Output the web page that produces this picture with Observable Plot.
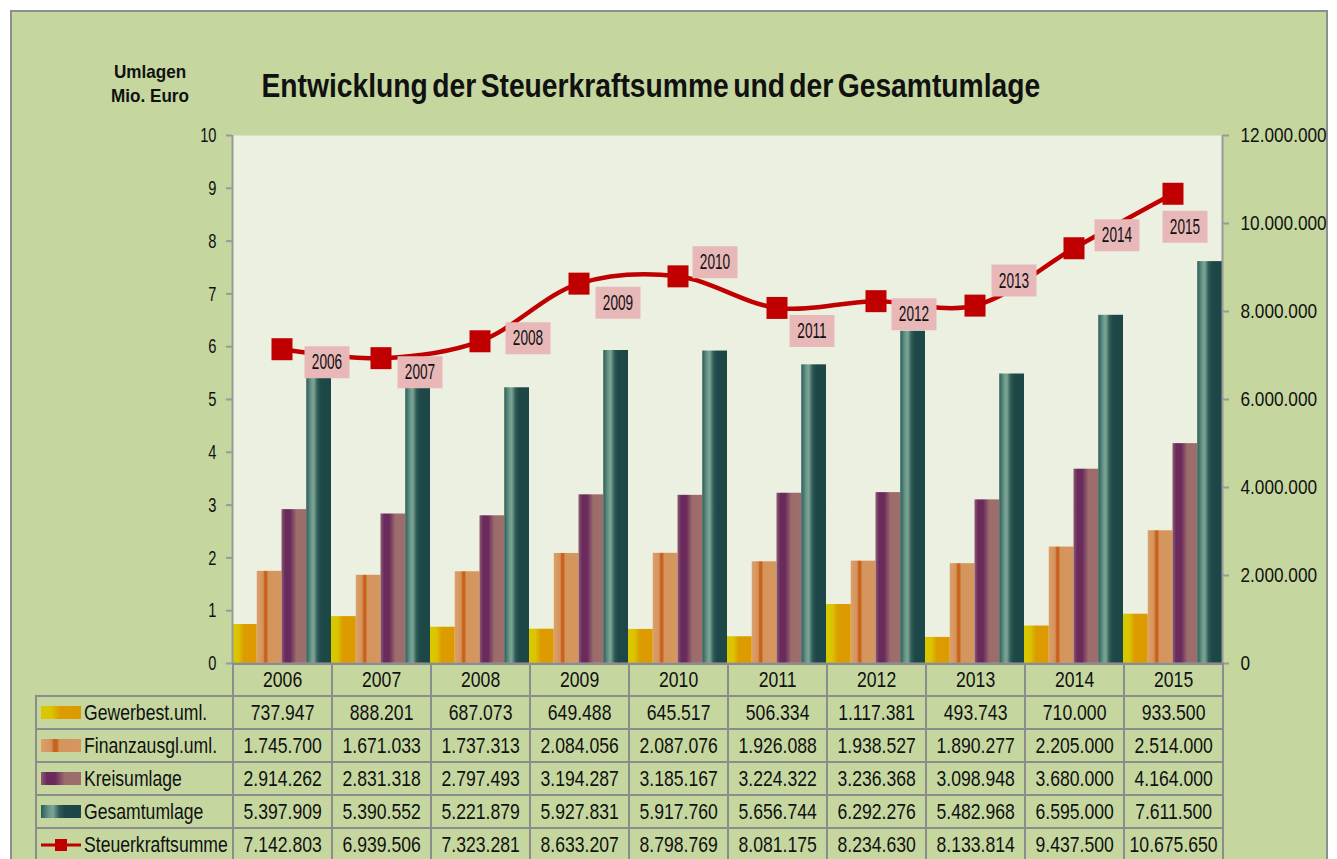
<!DOCTYPE html>
<html><head><meta charset="utf-8">
<script src="https://cdn.jsdelivr.net/npm/d3@7"></script>
<script src="https://cdn.jsdelivr.net/npm/@observablehq/plot@0.6"></script>
<style>
body{margin:0;background:#fff;}
#wrap{position:relative;width:1337px;height:859px;overflow:hidden;font-family:"Liberation Sans",Arial,sans-serif;color:#111;}
#frame{position:absolute;left:10px;top:10px;width:1318px;height:880px;background:#c5d79f;border:2px solid #8e8e8e;box-sizing:border-box;}
#chart{position:absolute;left:0;top:0;}
#title{position:absolute;left:0;width:1301px;top:67px;text-align:center;font-weight:bold;font-size:33px;white-space:nowrap;}
#title span{display:inline-block;transform-origin:center;word-spacing:-4px;}
#unit{position:absolute;left:100px;width:100px;top:60px;text-align:center;font-weight:bold;font-size:19px;line-height:24px;}
#unit div{transform:scaleX(0.9);}
table{position:absolute;left:35px;top:663px;width:1187px;border-collapse:collapse;table-layout:fixed;font-size:22px;}
td{border:2px solid #8c8c8c;text-align:center;height:31px;padding:0;white-space:nowrap;overflow:hidden;}
tr.hd td{height:30px;}
td.blank{border-top:none;border-left:none;}
.c{width:125%;margin-left:-12.5%;text-align:center;transform:scaleX(0.8);}
.lab{display:flex;align-items:center;padding-left:4px;}
.lab svg{flex:none;}
.lab span{flex:none;display:inline-block;transform:scaleX(0.8);transform-origin:left center;margin-left:3px;}
</style>
</head><body>
<div id="wrap">
  <div id="frame"></div>
  <svg width="0" height="0" style="position:absolute">
    <defs>
      <linearGradient id="g-gew" x1="0" x2="1" y1="0" y2="0">
        <stop offset="0" stop-color="#d9c900"/><stop offset="0.25" stop-color="#dac500"/>
        <stop offset="0.48" stop-color="#dc9c00"/><stop offset="1" stop-color="#dd9a00"/>
      </linearGradient>
      <linearGradient id="g-fin" x1="0" x2="1" y1="0" y2="0">
        <stop offset="0" stop-color="#dca06a"/><stop offset="0.26" stop-color="#d4925a"/>
        <stop offset="0.32" stop-color="#c8621c"/><stop offset="0.40" stop-color="#c8621c"/>
        <stop offset="0.46" stop-color="#d4955c"/><stop offset="1" stop-color="#d6975e"/>
      </linearGradient>
      <linearGradient id="g-kre" x1="0" x2="1" y1="0" y2="0">
        <stop offset="0" stop-color="#8c5c72"/><stop offset="0.15" stop-color="#6a2a5c"/>
        <stop offset="0.35" stop-color="#6a2a5c"/><stop offset="0.6" stop-color="#9c6c6c"/>
        <stop offset="1" stop-color="#9e6e6c"/>
      </linearGradient>
      <linearGradient id="g-ges" x1="0" x2="1" y1="0" y2="0">
        <stop offset="0" stop-color="#2c5c58"/><stop offset="0.2" stop-color="#6a988a"/>
        <stop offset="0.3" stop-color="#7ea494"/><stop offset="0.46" stop-color="#2c5a55"/>
        <stop offset="0.6" stop-color="#1e4848"/><stop offset="1" stop-color="#1d4646"/>
      </linearGradient>
    </defs>
  </svg>
  <div id="chart"></div>
  <div id="unit"><div>Umlagen</div><div>Mio. Euro</div></div>
  <div id="title"><span id="tspan">Entwicklung der Steuerkraftsumme und der Gesamtumlage</span></div>
  <table id="tbl"></table>
</div>
<script>
const years = ["2006","2007","2008","2009","2010","2011","2012","2013","2014","2015"];
const gewerbest = [737947, 888201, 687073, 649488, 645517, 506334, 1117381, 493743, 710000, 933500];
const finanzausgl = [1745700, 1671033, 1737313, 2084056, 2087076, 1926088, 1938527, 1890277, 2205000, 2514000];
const kreisumlage = [2914262, 2831318, 2797493, 3194287, 3185167, 3224322, 3236368, 3098948, 3680000, 4164000];
const gesamtumlage = [5397909, 5390552, 5221879, 5927831, 5917760, 5656744, 6292276, 5482968, 6595000, 7611500];
const steuerkraft = [7142803, 6939506, 7323281, 8633207, 8798769, 8081175, 8234630, 8133814, 9437500, 10675650];
const seriesNames = ["Gewerbest.uml.", "Finanzausgl.uml.", "Kreisumlage", "Gesamtumlage"];
const lineName = "Steuerkraftsumme";
const leftTicks = [0,1,2,3,4,5,6,7,8,9,10];
const rightTicks = [0, 2000000, 4000000, 6000000, 8000000, 10000000, 12000000];

// styling / layout (not data)
const gradIds = ["g-gew","g-fin","g-kre","g-ges"];
const labelOffsets = [[45,13],[39,14],[48,-3],[39,19],[37,-14],[35,23],[38,13],[39,-25],[43,-13],[12,33]];
const rightMax = 12000000, leftMax = 10;

const de = d3.formatLocale({decimal:",", thousands:".", grouping:[3], currency:["","€"]});
const fmt = de.format(",d");

const seriesValues = [gewerbest, finanzausgl, kreisumlage, gesamtumlage];
const bars = [];
seriesValues.forEach((arr, k) => arr.forEach((v, i) => bars.push({i, k, year: years[i], v: v/1e6})));
const pts = steuerkraft.map((v, i) => ({i, year: years[i], v: v * leftMax / rightMax}));

const rectSym = (w, h) => ({draw(ctx){ ctx.rect(-w/2, -h/2, w, h); }});

const W = 1337, H = 700;
const marks = [
  Plot.frame({fill:"#ecf0e1", stroke:null}),
  Plot.rectY(bars, {x1: d => d.i + d.k/4, x2: d => d.i + (d.k+1)/4, y1: 0, y2: "v", fill: d => `url(#${gradIds[d.k]})`, inset: 0}),
  Plot.line(pts, {x: d => d.i + 0.5, y: "v", stroke:"#c00000", strokeWidth:4.5, curve:"catmull-rom"}),
  Plot.dot(pts, {x: d => d.i + 0.5, y: "v", symbol: rectSym(21,22), fill:"#c00000", stroke:null}),
];
pts.forEach((p, j) => {
  const [dx, dy] = labelOffsets[j];
  marks.push(Plot.dot([p], {x: d => d.i + 0.5, y: "v", dx, dy, symbol: rectSym(45,32), fill:"#e8b8b8", stroke:null}));
  marks.push(Plot.text([p], {x: d => d.i + 0.5, y: "v", dx, dy, text: "year", fontSize: 22, fill:"#111"}));
});
marks.push(
  Plot.ruleX([0], {stroke:"#999", strokeWidth:2}),
  Plot.ruleX([10], {stroke:"#999", strokeWidth:2}),
  Plot.ruleY([0], {stroke:"#999", strokeWidth:2, x1:0, x2:10}),
  Plot.axisY(leftTicks, {anchor:"left", tickSize:6, tickPadding:10, stroke:"#999", strokeWidth:2, fontSize:21, label:null, tickFormat: d => String(d)}),
  Plot.axisY(rightTicks.map(t => t*leftMax/rightMax), {anchor:"right", tickSize:6, tickPadding:12, stroke:"#999", strokeWidth:2, fontSize:21, label:null, tickFormat: d => fmt(Math.round(d*rightMax/leftMax))})
);

const chart = Plot.plot({
  width: W, height: H,
  marginLeft: 232, marginRight: W - 1222, marginTop: 135, marginBottom: H - 663,
  x: {domain:[0,10], axis:null},
  y: {domain:[0,10]},
  style: {background:"transparent", fontFamily:'"Liberation Sans",Arial,sans-serif', color:"#111", overflow:"visible"},
  marks
});
// condense text horizontally (narrow typeface look)
chart.querySelectorAll("text").forEach(t => {
  const a = t.closest("[text-anchor]");
  const anchor = a ? a.getAttribute("text-anchor") : "middle";
  const s = anchor === "end" ? 0.7 : anchor === "start" ? 0.82 : 0.62;
  const xa = t.getAttribute("x");
  const ok = xa !== null && !isNaN(+xa);
  const x = ok ? +xa : 0;
  if (ok) t.removeAttribute("x");
  const tr = t.getAttribute("transform") || "";
  t.setAttribute("transform", `${tr} translate(${x},0) scale(${s},1)`);
});
document.getElementById("chart").appendChild(chart);

// title fit
const ts = document.getElementById("tspan");
ts.style.transform = `scaleX(${779 / ts.offsetWidth})`;

// data table
const tbl = document.getElementById("tbl");
let html = '<colgroup><col style="width:197px">' + years.map(()=>'<col style="width:99px">').join("") + '</colgroup>';
html += '<tr class="hd"><td class="blank"></td>' + years.map(y => `<td><div class="c">${y}</div></td>`).join("") + '</tr>';
seriesNames.forEach((n, k) => {
  html += `<tr><td><div class="lab"><svg width="40" height="13"><rect width="40" height="13" fill="url(#${gradIds[k]})"/></svg><span>${n}</span></div></td>` +
    seriesValues[k].map(v => `<td><div class="c">${fmt(v)}</div></td>`).join("") + '</tr>';
});
html += `<tr><td><div class="lab"><svg width="40" height="14"><line x1="0" x2="40" y1="7" y2="7" stroke="#c00000" stroke-width="3"/><rect x="14" y="1" width="12" height="12" fill="#c00000"/></svg><span>${lineName}</span></div></td>` +
  steuerkraft.map(v => `<td><div class="c">${fmt(v)}</div></td>`).join("") + '</tr>';
tbl.innerHTML = html;
</script>
</body></html>
